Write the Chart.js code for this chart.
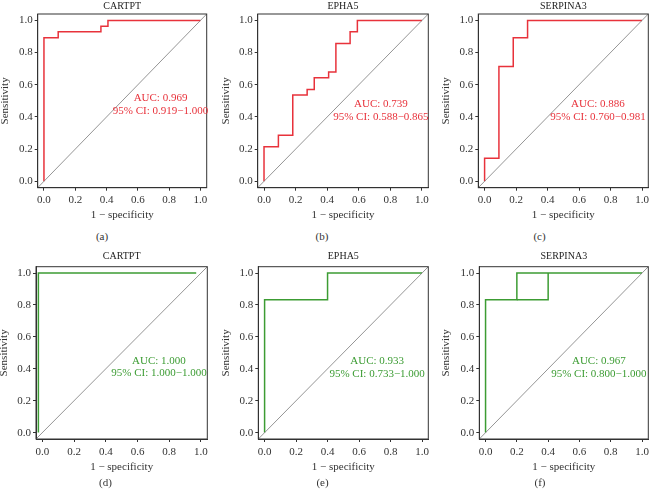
<!DOCTYPE html><html lang="en"><meta charset="utf-8">
<title>ROC curves</title>
<script src="https://cdn.jsdelivr.net/npm/chart.js@4.4.1"></script>
<style>
html,body{margin:0;padding:0;background:#fff;overflow:hidden}
#wrap{position:relative;width:649px;height:494px}
canvas{position:absolute}
.cap{position:absolute;width:40px;margin-left:-20px;text-align:center;font:11px "Liberation Serif","DejaVu Serif",serif;color:#333;line-height:12px;margin-top:-6px}
</style>
<body>
<div id="wrap"></div>

<script>
// ---- data ----
const TICKS = [0, 0.2, 0.4, 0.6, 0.8, 1.0];
const DIAG_X = [-0.1, 1.1];
const DIAG_Y = [-0.1, 1.1];

// top row (red)
const CARTPT_A_FPR = [0, 0, 0.091, 0.091, 0.364, 0.364, 0.409, 0.409, 1];
const CARTPT_A_TPR = [0, 0.893, 0.893, 0.929, 0.929, 0.964, 0.964, 1, 1];
const EPHA5_B_FPR = [0, 0, 0.091, 0.091, 0.182, 0.182, 0.273, 0.273, 0.318, 0.318, 0.409, 0.409, 0.455, 0.455, 0.545, 0.545, 0.591, 0.591, 1];
const EPHA5_B_TPR = [0, 0.214, 0.214, 0.286, 0.286, 0.536, 0.536, 0.571, 0.571, 0.643, 0.643, 0.679, 0.679, 0.857, 0.857, 0.929, 0.929, 1, 1];
const SERPINA3_C_FPR = [0, 0, 0.091, 0.091, 0.182, 0.182, 0.273, 0.273, 1];
const SERPINA3_C_TPR = [0, 0.143, 0.143, 0.714, 0.714, 0.893, 0.893, 1, 1];

// bottom row (green)
const CARTPT_D_FPR = [-0.025, -0.025, 0.97];
const CARTPT_D_TPR = [0, 1, 1];
const EPHA5_E_FPR = [0, 0, 0.4, 0.4, 1];
const EPHA5_E_TPR = [0, 0.833, 0.833, 1, 1];
const SERPINA3_F_FPR = [0, 0, 0.2, 0.2, 1];
const SERPINA3_F_TPR = [0, 0.833, 0.833, 1, 1];
const SERPINA3_F_TIE_FPR = [0.2, 0.4, 0.4];
const SERPINA3_F_TIE_TPR = [0.833, 0.833, 1];

const GENES = ['CARTPT', 'EPHA5', 'SERPINA3', 'CARTPT', 'EPHA5', 'SERPINA3'];
const CAPTIONS = ['(a)', '(b)', '(c)', '(d)', '(e)', '(f)'];
const AUC_TEXT = ['AUC: 0.969', 'AUC: 0.739', 'AUC: 0.886', 'AUC: 1.000', 'AUC: 0.933', 'AUC: 0.967'];
const CI_TEXT = ['95% CI: 0.919\u22121.000', '95% CI: 0.588\u22120.865', '95% CI: 0.760\u22120.981',
                 '95% CI: 1.000\u22121.000', '95% CI: 0.733\u22121.000', '95% CI: 0.800\u22121.000'];

// ---- looks ----
const SERIF = '"Liberation Serif","DejaVu Serif",serif';
const RED = '#e8323b', GREEN = '#3c9c33', INK = '#333';
const pts = (xs, ys) => xs.map((x, i) => ({x, y: ys[i]}));

const curves = [
  [pts(CARTPT_A_FPR, CARTPT_A_TPR)],
  [pts(EPHA5_B_FPR, EPHA5_B_TPR)],
  [pts(SERPINA3_C_FPR, SERPINA3_C_TPR)],
  [pts(CARTPT_D_FPR, CARTPT_D_TPR)],
  [pts(EPHA5_E_FPR, EPHA5_E_TPR)],
  [pts(SERPINA3_F_FPR, SERPINA3_F_TPR), pts(SERPINA3_F_TIE_FPR, SERPINA3_F_TIE_TPR)]
];

// page geometry of each panel (plot box, label spots)
const rows = [
  {top: 0,   h: 230, T: 14,    B: 187.7, titleY: 6,     tickY: 200,   xlabY: 215,   capY: 236},
  {top: 245, h: 235, T: 266.7, B: 439,   titleY: 256.7, tickY: 451.7, xlabY: 467.3, capY: 482}
];
const cols = [
  {L: 37.7,  R: 206.7, ylab: 6,     cap: 102,   tx: 0.745, ty: [0.518, 0.435]},
  {L: 257.7, R: 428.3, ylab: 226.7, cap: 322,   tx: 0.74,  ty: [0.48, 0.40]},
  {L: 478.3, R: 648.3, ylab: 447,   cap: 539.5, tx: 0.72,  ty: [0.48, 0.40]},
  {L: 36,    R: 207.3, ylab: 5,     cap: 105.5, tx: 0.735, ty: [0.45, 0.373]},
  {L: 258.3, R: 428.3, ylab: 226.7, cap: 322.5, tx: 0.715, ty: [0.446, 0.367]},
  {L: 479.3, R: 648.3, ylab: 447.3, cap: 540,   tx: 0.724, ty: [0.446, 0.367]}
];

const framePlugin = {
  id: 'frame',
  afterDatasetsDraw(chart) {
    const {ctx, chartArea: a} = chart;
    ctx.save();
    ctx.strokeStyle = INK; ctx.lineWidth = 1;
    ctx.strokeRect(a.left, a.top, a.right - a.left, a.bottom - a.top);
    ctx.restore();
  }
};

const aucPlugin = {
  id: 'aucText',
  afterDraw(chart, args, o) {
    const {ctx, scales: {x, y}} = chart;
    ctx.save();
    ctx.fillStyle = o.color;
    ctx.font = '11px ' + SERIF;
    ctx.textAlign = 'center'; ctx.textBaseline = 'middle';
    o.lines.forEach((t, i) => ctx.fillText(t, x.getPixelForValue(o.x), y.getPixelForValue(o.y[i])));
    ctx.restore();
  }
};

const wrap = document.getElementById('wrap');

GENES.forEach((gene, i) => {
  const r = rows[i < 3 ? 0 : 1], c = cols[i];
  const color = i < 3 ? RED : GREEN;
  const left = Math.floor(c.ylab - 6.6);
  const width = Math.ceil(c.R + 10) - left;

  const cv = document.createElement('canvas');
  cv.width = width; cv.height = r.h;
  cv.style.left = left + 'px'; cv.style.top = r.top + 'px';
  wrap.appendChild(cv);

  const cap = document.createElement('div');
  cap.className = 'cap'; cap.textContent = CAPTIONS[i];
  cap.style.left = c.cap + 'px'; cap.style.top = r.capY + 'px';
  wrap.appendChild(cap);

  const titlePadTop = r.titleY - r.top - 6;
  const titlePadBot = (r.T - r.top) - titlePadTop - 12;
  const xH = 40;

  const datasets = [{data: pts(DIAG_X, DIAG_Y), borderColor: '#7a7a7a', borderWidth: 0.8}]
    .concat(curves[i].map(d => ({data: d, borderColor: color, borderWidth: 1.5})));
  datasets.forEach(d => Object.assign(d, {showLine: true, pointRadius: 0, fill: false}));

  new Chart(cv, {
    type: 'scatter',
    data: {datasets},
    options: {
      responsive: false, animation: false, events: [],
      layout: {autoPadding: false, padding: {left: 0, top: 0, right: width - (c.R - left), bottom: r.h - (r.B - r.top) - xH}},
      plugins: {
        legend: {display: false}, tooltip: {enabled: false},
        title: {display: true, text: gene, fullSize: false, color: '#222', font: {family: SERIF, size: 10, weight: 'normal'},
                padding: {top: titlePadTop, bottom: titlePadBot}},
        aucText: {color, lines: [AUC_TEXT[i], CI_TEXT[i]], x: c.tx, y: c.ty}
      },
      scales: {
        x: {
          type: 'linear', min: -0.04, max: 1.04,
          afterBuildTicks: s => { s.ticks = TICKS.map(v => ({value: v})); },
          afterFit: s => { s.height = xH; },
          ticks: {callback: v => v.toFixed(1), autoSkip: false, maxRotation: 0, padding: r.tickY - r.B - 9.2, color: INK, font: {family: SERIF, size: 11}},
          grid: {drawOnChartArea: false, tickLength: 3, color: INK},
          border: {color: INK},
          title: {display: true, text: '1 \u2212 specificity', color: INK, font: {family: SERIF, size: 11},
                  padding: {top: 0, bottom: r.B + 33.4 - r.xlabY}}
        },
        y: {
          type: 'linear', min: -0.04, max: 1.04,
          afterBuildTicks: s => { s.ticks = TICKS.map(v => ({value: v})); },
          afterFit: s => { s.width = c.L - left; },
          ticks: {callback: v => v.toFixed(1), autoSkip: false, padding: 2, color: INK, font: {family: SERIF, size: 11}},
          grid: {drawOnChartArea: false, tickLength: 3, color: INK},
          border: {color: INK},
          title: {display: true, text: 'Sensitivity', color: INK, font: {family: SERIF, size: 11}, padding: {top: 0, bottom: 0}}
        }
      }
    },
    plugins: [framePlugin, aucPlugin]
  });
});
</script>
</body></html>
